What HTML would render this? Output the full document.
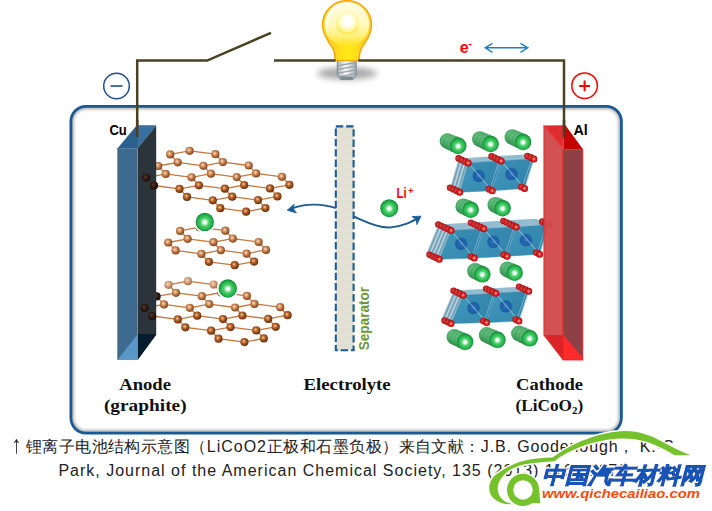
<!DOCTYPE html>
<html><head><meta charset="utf-8"><title>Li-ion battery</title>
<style>
html,body{margin:0;padding:0;background:#fff;}
body{width:712px;height:511px;position:relative;overflow:hidden;font-family:"Liberation Sans",sans-serif;}
.cap{position:absolute;left:0;white-space:nowrap;font-size:16px;color:#222;line-height:22px;letter-spacing:0.45px;}
.la{letter-spacing:0.9px}
.cap span{display:inline-block}
</style></head><body>
<svg width="712" height="511" viewBox="0 0 712 511" style="position:absolute;left:0;top:0"><defs>
<radialGradient id="gCu" cx="42%" cy="40%" r="62%">
  <stop offset="0" stop-color="#fbe6d6"/><stop offset="0.35" stop-color="#d6935f"/><stop offset="0.8" stop-color="#9a5428"/><stop offset="1" stop-color="#7a3e18"/>
</radialGradient>
<radialGradient id="gCuD" cx="42%" cy="40%" r="62%">
  <stop offset="0" stop-color="#f6d0b0"/><stop offset="0.35" stop-color="#bd6a2e"/><stop offset="0.8" stop-color="#7f3a10"/><stop offset="1" stop-color="#5e2808"/>
</radialGradient>
<radialGradient id="gCuL" cx="42%" cy="40%" r="62%">
  <stop offset="0" stop-color="#f6dcc8"/><stop offset="0.4" stop-color="#dba884"/><stop offset="0.85" stop-color="#b47850"/><stop offset="1" stop-color="#9a6240"/>
</radialGradient>
<radialGradient id="gCuK" cx="42%" cy="40%" r="62%">
  <stop offset="0" stop-color="#5a3a2a"/><stop offset="0.5" stop-color="#2e1a12"/><stop offset="1" stop-color="#180c08"/>
</radialGradient>
<radialGradient id="gLi" cx="50%" cy="52%" r="55%">
  <stop offset="0" stop-color="#ffffff"/><stop offset="0.15" stop-color="#f4fff6"/><stop offset="0.38" stop-color="#50d470"/><stop offset="0.72" stop-color="#22b04a"/><stop offset="0.92" stop-color="#148838"/><stop offset="1" stop-color="#0e702c"/>
</radialGradient>
<radialGradient id="gLiB" cx="42%" cy="36%" r="65%">
  <stop offset="0" stop-color="#78cc92"/><stop offset="0.55" stop-color="#4aaa66"/><stop offset="0.9" stop-color="#318c4c"/><stop offset="1" stop-color="#2a7e42"/>
</radialGradient>
<radialGradient id="gO" cx="50%" cy="50%" r="55%">
  <stop offset="0" stop-color="#ffe8e8"/><stop offset="0.3" stop-color="#f04040"/><stop offset="0.75" stop-color="#c81010"/><stop offset="1" stop-color="#900000"/>
</radialGradient>
<radialGradient id="gOB" cx="50%" cy="50%" r="55%">
  <stop offset="0" stop-color="#e05050"/><stop offset="0.7" stop-color="#c02020"/><stop offset="1" stop-color="#981010"/>
</radialGradient>
<radialGradient id="gCo" cx="50%" cy="50%" r="50%">
  <stop offset="0" stop-color="#3a80c4"/><stop offset="0.35" stop-color="#2268b0"/><stop offset="0.85" stop-color="#1d5fa4"/><stop offset="1" stop-color="#2472a8" stop-opacity="0.35"/>
</radialGradient>
<radialGradient id="gBulb" cx="346.7" cy="22" r="25" fx="348" fy="20" gradientUnits="userSpaceOnUse">
  <stop offset="0" stop-color="#ffffff"/><stop offset="0.22" stop-color="#fffbe0"/><stop offset="0.42" stop-color="#fff08a"/><stop offset="0.75" stop-color="#ffe04a"/><stop offset="1" stop-color="#ffc81e"/>
</radialGradient>
<linearGradient id="gNeck" x1="326" x2="368" y1="0" y2="0" gradientUnits="userSpaceOnUse">
  <stop offset="0" stop-color="#ffc419"/><stop offset="0.3" stop-color="#ffdc1c"/><stop offset="0.55" stop-color="#ffea14"/><stop offset="0.8" stop-color="#ffd81c"/><stop offset="1" stop-color="#ffbe19"/>
</linearGradient>
<linearGradient id="gBulbIn" x1="0" x2="0" y1="2" y2="46" gradientUnits="userSpaceOnUse">
  <stop offset="0" stop-color="#fffde6"/><stop offset="0.5" stop-color="#fff8be"/><stop offset="0.78" stop-color="#fff07a"/><stop offset="1" stop-color="#ffe628" stop-opacity="0.6"/>
</linearGradient>
<radialGradient id="gBulbRing" cx="50%" cy="42%" r="55%">
  <stop offset="0" stop-color="#fffef4"/><stop offset="0.6" stop-color="#fffbd0"/><stop offset="0.88" stop-color="#fff38c"/><stop offset="1" stop-color="#ffee6c"/>
</radialGradient>
<radialGradient id="gBulbCore" cx="50%" cy="50%" r="50%">
  <stop offset="0" stop-color="#ffffff"/><stop offset="0.6" stop-color="#ffffff"/><stop offset="1" stop-color="#fffde0" stop-opacity="0"/>
</radialGradient>
<linearGradient id="gBase" x1="0" x2="1" y1="0" y2="0">
  <stop offset="0" stop-color="#a8b0b4"/><stop offset="0.45" stop-color="#fbfbfb"/><stop offset="1" stop-color="#a0aaae"/>
</linearGradient>
<linearGradient id="gPoly" x1="0" x2="1" y1="0" y2="1">
  <stop offset="0" stop-color="#4799bd"/><stop offset="0.5" stop-color="#3a8fb4"/><stop offset="1" stop-color="#3388ae"/>
</linearGradient>
<filter id="blur05"><feGaussianBlur stdDeviation="0.5"/></filter>
<filter id="blur1" x="-20%" y="-50%" width="140%" height="200%"><feGaussianBlur stdDeviation="3"/></filter>
<filter id="blur2" x="-10%" y="-10%" width="120%" height="120%"><feGaussianBlur stdDeviation="1.7"/></filter>
<pattern id="pSep" width="2" height="2" patternUnits="userSpaceOnUse"><rect width="2" height="2" fill="#e9e6dc"/><rect width="1" height="1" fill="#d9d5c8"/><rect x="1" y="1" width="1" height="1" fill="#dfdbcf"/></pattern>
<clipPath id="boxclip"><rect x="70.9" y="106.3" width="550.5" height="326.8" rx="15" ry="15"/></clipPath>
</defs>
<g clip-path="url(#boxclip)"><rect x="70.9" y="106.3" width="550.5" height="326.8" rx="15" ry="15" fill="none" stroke="#8a8a8a" stroke-width="6" filter="url(#blur2)" opacity="0.7"/></g>
<rect x="70.9" y="106.3" width="550.5" height="326.8" rx="15" ry="15" fill="none" stroke="#1a5a94" stroke-width="2.8"/>
<ellipse cx="347.2" cy="73.4" rx="30" ry="6" fill="#9a9a9a" filter="url(#blur1)" opacity="0.85"/>
<path d="M337.3 60 L356.2 60 L356.2 75.2 L352.8 79.6 L340.6 79.6 L337.3 75.2 Z" fill="url(#gBase)" stroke="#76868e" stroke-width="1"/>
<path d="M338.2 65.7 L355.4 62.5" stroke="#98a2a8" stroke-width="1.3"/>
<path d="M338.2 69.4 L355.4 66.2" stroke="#98a2a8" stroke-width="1.3"/>
<path d="M338.2 73.1 L355.4 69.9" stroke="#98a2a8" stroke-width="1.3"/>
<path d="M338.2 76.8 L355.4 73.6" stroke="#98a2a8" stroke-width="1.3"/>
<path d="M340.6 76.4 L352.8 76.4 L352.8 79.6 L340.6 79.6 Z" fill="#7e8c94"/>
<path d="M347 0.6 C360.6 0.6 371.5 11.4 371.5 24.8 C371.5 32.5 368.2 38 365.2 42.6 C362.6 46.6 360.6 48.8 360 52 C359.6 54.5 359.4 57 359.2 60.4 L335.2 60.4 C335 57 334.8 54.5 334.3 52 C333.7 48.8 331.6 46.6 329 42.6 C326 38 322.5 32.5 322.5 24.8 C322.5 11.4 333.4 0.6 347 0.6 Z" fill="#ffd535" stroke="#f7a400" stroke-width="1.4"/>
<path d="M326 36 C330 42 335 47 336.3 52 C337 55 337 58 337.2 59.8 L357.3 59.8 C357.5 58 357.6 55 358.2 52 C359.5 47 364 42 368 36 C360 42 334 42 326 36 Z" fill="url(#gNeck)"/>
<circle cx="346.9" cy="24.2" r="22.3" fill="url(#gBulbIn)"/>
<path d="M327.5 30 C325 18 332 6.5 345 4.2" fill="none" stroke="#fffef2" stroke-width="1.6" stroke-linecap="round" opacity="0.95"/>
<circle cx="347.4" cy="22.4" r="11.2" fill="url(#gBulbRing)"/>
<path d="M337.2 26.5 C339.5 36 355.5 36 357.8 26.5" fill="none" stroke="#ffe84e" stroke-width="1.3" opacity="0.9" filter="url(#blur05)"/>
<circle cx="347.8" cy="20.6" r="7.4" fill="url(#gBulbCore)"/>
<path d="M137.2 137 L137.2 60.6 L207.1 60.6 L271 32.8" fill="none" stroke="#4a4122" stroke-width="2.5" stroke-linejoin="miter"/>
<path d="M274 60.6 L335.6 60.6" fill="none" stroke="#4a4122" stroke-width="2.5"/>
<path d="M358.2 60.6 L564 60.6 L564 137.5" fill="none" stroke="#4a4122" stroke-width="2.5"/>
<circle cx="116.5" cy="86" r="12.8" fill="none" stroke="#1f4f8f" stroke-width="1.5"/>
<path d="M110.5 86 L122.5 86" stroke="#1f4f8f" stroke-width="1.6"/>
<circle cx="584.6" cy="85.7" r="12.8" fill="none" stroke="#ff0000" stroke-width="1.5"/>
<path d="M579.2 85.9 L590 85.9 M584.6 80.5 L584.6 91.3" stroke="#ff0000" stroke-width="2"/>
<path d="M485.5 47.8 L527.5 47.8 M492.5 43.3 L485.2 47.8 L492.5 52.3 M520.5 43.3 L527.8 47.8 L520.5 52.3" fill="none" stroke="#1f7fcc" stroke-width="1.4" stroke-linejoin="miter"/>
<rect x="335.8" y="126.4" width="17.8" height="223.9" fill="url(#pSep)" stroke="#1b5c95" stroke-width="2.1" stroke-dasharray="7.4 2.9"/>
<path d="M170.2 154.4 L189.6 150.8" stroke="#c6783f" stroke-width="1.3"/>
<path d="M170.2 154.4 L177.7 162.3" stroke="#c6783f" stroke-width="1.3"/>
<path d="M215.4 154.2 L189.6 150.8" stroke="#c6783f" stroke-width="1.3"/>
<path d="M215.4 154.2 L222.8 162.1" stroke="#c6783f" stroke-width="1.3"/>
<path d="M158.2 166.0 L177.7 162.3" stroke="#c6783f" stroke-width="1.3"/>
<path d="M158.2 166.0 L165.7 173.9" stroke="#c6783f" stroke-width="1.3"/>
<path d="M203.4 165.8 L222.8 162.1" stroke="#c6783f" stroke-width="1.3"/>
<path d="M203.4 165.8 L177.7 162.3" stroke="#c6783f" stroke-width="1.3"/>
<path d="M203.4 165.8 L210.9 173.7" stroke="#c6783f" stroke-width="1.3"/>
<path d="M248.7 165.5 L222.8 162.1" stroke="#c6783f" stroke-width="1.3"/>
<path d="M248.7 165.5 L256.1 173.4" stroke="#c6783f" stroke-width="1.3"/>
<path d="M146.3 177.6 L165.7 173.9" stroke="#c6783f" stroke-width="1.3"/>
<path d="M146.3 177.6 L153.8 185.5" stroke="#c6783f" stroke-width="1.3"/>
<path d="M191.5 177.3 L210.9 173.7" stroke="#c6783f" stroke-width="1.3"/>
<path d="M191.5 177.3 L165.7 173.9" stroke="#c6783f" stroke-width="1.3"/>
<path d="M191.5 177.3 L198.9 185.3" stroke="#c6783f" stroke-width="1.3"/>
<path d="M236.7 177.1 L256.1 173.4" stroke="#c6783f" stroke-width="1.3"/>
<path d="M236.7 177.1 L210.9 173.7" stroke="#c6783f" stroke-width="1.3"/>
<path d="M236.7 177.1 L244.2 185.0" stroke="#c6783f" stroke-width="1.3"/>
<path d="M281.9 176.8 L256.1 173.4" stroke="#c6783f" stroke-width="1.3"/>
<path d="M281.9 176.8 L289.4 184.8" stroke="#c6783f" stroke-width="1.3"/>
<path d="M179.5 188.9 L198.9 185.3" stroke="#c6783f" stroke-width="1.3"/>
<path d="M179.5 188.9 L153.8 185.5" stroke="#c6783f" stroke-width="1.3"/>
<path d="M179.5 188.9 L187.0 196.9" stroke="#c6783f" stroke-width="1.3"/>
<path d="M224.8 188.7 L244.2 185.0" stroke="#c6783f" stroke-width="1.3"/>
<path d="M224.8 188.7 L198.9 185.3" stroke="#c6783f" stroke-width="1.3"/>
<path d="M224.8 188.7 L232.2 196.7" stroke="#c6783f" stroke-width="1.3"/>
<path d="M270.0 188.4 L289.4 184.8" stroke="#c6783f" stroke-width="1.3"/>
<path d="M270.0 188.4 L244.2 185.0" stroke="#c6783f" stroke-width="1.3"/>
<path d="M270.0 188.4 L277.4 196.4" stroke="#c6783f" stroke-width="1.3"/>
<path d="M212.8 200.3 L232.2 196.7" stroke="#c6783f" stroke-width="1.3"/>
<path d="M212.8 200.3 L187.0 196.9" stroke="#c6783f" stroke-width="1.3"/>
<path d="M212.8 200.3 L220.3 208.2" stroke="#c6783f" stroke-width="1.3"/>
<path d="M258.0 200.1 L277.4 196.4" stroke="#c6783f" stroke-width="1.3"/>
<path d="M258.0 200.1 L232.2 196.7" stroke="#c6783f" stroke-width="1.3"/>
<path d="M258.0 200.1 L265.4 208.0" stroke="#c6783f" stroke-width="1.3"/>
<path d="M246.1 211.7 L265.4 208.0" stroke="#c6783f" stroke-width="1.3"/>
<path d="M246.1 211.7 L220.3 208.2" stroke="#c6783f" stroke-width="1.3"/>
<circle cx="189.6" cy="150.8" r="4.1" fill="url(#gCu)"/>
<circle cx="215.4" cy="154.2" r="4.1" fill="url(#gCu)"/>
<circle cx="170.2" cy="154.4" r="4.1" fill="url(#gCu)"/>
<circle cx="222.8" cy="162.1" r="4.1" fill="url(#gCu)"/>
<circle cx="177.7" cy="162.3" r="4.1" fill="url(#gCu)"/>
<circle cx="248.7" cy="165.5" r="4.1" fill="url(#gCu)"/>
<circle cx="203.4" cy="165.8" r="4.1" fill="url(#gCu)"/>
<circle cx="158.2" cy="166.0" r="4.1" fill="url(#gCu)"/>
<circle cx="256.1" cy="173.4" r="4.1" fill="url(#gCu)"/>
<circle cx="210.9" cy="173.7" r="4.1" fill="url(#gCu)"/>
<circle cx="165.7" cy="173.9" r="4.1" fill="url(#gCu)"/>
<circle cx="281.9" cy="176.8" r="4.1" fill="url(#gCu)"/>
<circle cx="236.7" cy="177.1" r="4.1" fill="url(#gCu)"/>
<circle cx="191.5" cy="177.3" r="4.1" fill="url(#gCu)"/>
<circle cx="146.3" cy="177.6" r="4.1" fill="url(#gCuK)"/>
<circle cx="289.4" cy="184.8" r="4.1" fill="url(#gCuD)"/>
<circle cx="244.2" cy="185.0" r="4.1" fill="url(#gCuD)"/>
<circle cx="198.9" cy="185.3" r="4.1" fill="url(#gCuD)"/>
<circle cx="153.8" cy="185.5" r="4.1" fill="url(#gCuK)"/>
<circle cx="270.0" cy="188.4" r="4.1" fill="url(#gCuD)"/>
<circle cx="224.8" cy="188.7" r="4.1" fill="url(#gCuD)"/>
<circle cx="179.5" cy="188.9" r="4.1" fill="url(#gCuD)"/>
<circle cx="277.4" cy="196.4" r="4.1" fill="url(#gCuD)"/>
<circle cx="232.2" cy="196.7" r="4.1" fill="url(#gCuD)"/>
<circle cx="187.0" cy="196.9" r="4.1" fill="url(#gCuD)"/>
<circle cx="258.0" cy="200.1" r="4.1" fill="url(#gCuD)"/>
<circle cx="212.8" cy="200.3" r="4.1" fill="url(#gCuD)"/>
<circle cx="265.4" cy="208.0" r="4.1" fill="url(#gCuD)"/>
<circle cx="220.3" cy="208.2" r="4.1" fill="url(#gCuD)"/>
<circle cx="246.1" cy="211.7" r="4.1" fill="url(#gCuD)"/>
<path d="M180.1 230.9 L199.5 227.2" stroke="#c6783f" stroke-width="1.3"/>
<path d="M180.1 230.9 L187.6 238.8" stroke="#c6783f" stroke-width="1.3"/>
<path d="M225.3 230.7 L199.5 227.2" stroke="#c6783f" stroke-width="1.3"/>
<path d="M225.3 230.7 L232.8 238.6" stroke="#c6783f" stroke-width="1.3"/>
<path d="M168.2 242.5 L187.6 238.8" stroke="#c6783f" stroke-width="1.3"/>
<path d="M168.2 242.5 L175.6 250.4" stroke="#c6783f" stroke-width="1.3"/>
<path d="M213.4 242.2 L232.8 238.6" stroke="#c6783f" stroke-width="1.3"/>
<path d="M213.4 242.2 L187.6 238.8" stroke="#c6783f" stroke-width="1.3"/>
<path d="M213.4 242.2 L220.8 250.2" stroke="#c6783f" stroke-width="1.3"/>
<path d="M258.6 242.0 L232.8 238.6" stroke="#c6783f" stroke-width="1.3"/>
<path d="M258.6 242.0 L266.0 249.9" stroke="#c6783f" stroke-width="1.3"/>
<path d="M201.4 253.8 L220.8 250.2" stroke="#c6783f" stroke-width="1.3"/>
<path d="M201.4 253.8 L175.6 250.4" stroke="#c6783f" stroke-width="1.3"/>
<path d="M201.4 253.8 L208.9 261.8" stroke="#c6783f" stroke-width="1.3"/>
<path d="M246.6 253.6 L266.0 249.9" stroke="#c6783f" stroke-width="1.3"/>
<path d="M246.6 253.6 L220.8 250.2" stroke="#c6783f" stroke-width="1.3"/>
<path d="M246.6 253.6 L254.1 261.6" stroke="#c6783f" stroke-width="1.3"/>
<path d="M234.7 265.2 L254.1 261.6" stroke="#c6783f" stroke-width="1.3"/>
<path d="M234.7 265.2 L208.9 261.8" stroke="#c6783f" stroke-width="1.3"/>
<circle cx="199.5" cy="227.2" r="4.1" fill="url(#gCu)"/>
<circle cx="225.3" cy="230.7" r="4.1" fill="url(#gCu)"/>
<circle cx="180.1" cy="230.9" r="4.1" fill="url(#gCu)"/>
<circle cx="232.8" cy="238.6" r="4.1" fill="url(#gCu)"/>
<circle cx="187.6" cy="238.8" r="4.1" fill="url(#gCu)"/>
<circle cx="258.6" cy="242.0" r="4.1" fill="url(#gCu)"/>
<circle cx="213.4" cy="242.2" r="4.1" fill="url(#gCu)"/>
<circle cx="168.2" cy="242.5" r="4.1" fill="url(#gCu)"/>
<circle cx="266.0" cy="249.9" r="4.1" fill="url(#gCu)"/>
<circle cx="220.8" cy="250.2" r="4.1" fill="url(#gCu)"/>
<circle cx="175.6" cy="250.4" r="4.1" fill="url(#gCu)"/>
<circle cx="246.6" cy="253.6" r="4.1" fill="url(#gCu)"/>
<circle cx="201.4" cy="253.8" r="4.1" fill="url(#gCu)"/>
<circle cx="254.1" cy="261.6" r="4.1" fill="url(#gCuD)"/>
<circle cx="208.9" cy="261.8" r="4.1" fill="url(#gCuD)"/>
<circle cx="234.7" cy="265.2" r="4.1" fill="url(#gCuD)"/>
<path d="M168.5 284.8 L187.9 281.2" stroke="#c6783f" stroke-width="1.3"/>
<path d="M168.5 284.8 L176.0 292.8" stroke="#c6783f" stroke-width="1.3"/>
<path d="M213.7 284.6 L187.9 281.2" stroke="#c6783f" stroke-width="1.3"/>
<path d="M213.7 284.6 L221.2 292.5" stroke="#c6783f" stroke-width="1.3"/>
<path d="M156.6 296.4 L176.0 292.8" stroke="#c6783f" stroke-width="1.3"/>
<path d="M156.6 296.4 L164.0 304.4" stroke="#c6783f" stroke-width="1.3"/>
<path d="M201.8 296.2 L221.2 292.5" stroke="#c6783f" stroke-width="1.3"/>
<path d="M201.8 296.2 L176.0 292.8" stroke="#c6783f" stroke-width="1.3"/>
<path d="M201.8 296.2 L209.2 304.1" stroke="#c6783f" stroke-width="1.3"/>
<path d="M246.9 295.9 L221.2 292.5" stroke="#c6783f" stroke-width="1.3"/>
<path d="M246.9 295.9 L254.4 303.9" stroke="#c6783f" stroke-width="1.3"/>
<path d="M144.6 308.0 L164.0 304.4" stroke="#c6783f" stroke-width="1.3"/>
<path d="M144.6 308.0 L152.1 316.0" stroke="#c6783f" stroke-width="1.3"/>
<path d="M189.8 307.8 L209.2 304.1" stroke="#c6783f" stroke-width="1.3"/>
<path d="M189.8 307.8 L164.0 304.4" stroke="#c6783f" stroke-width="1.3"/>
<path d="M189.8 307.8 L197.2 315.7" stroke="#c6783f" stroke-width="1.3"/>
<path d="M235.0 307.5 L254.4 303.9" stroke="#c6783f" stroke-width="1.3"/>
<path d="M235.0 307.5 L209.2 304.1" stroke="#c6783f" stroke-width="1.3"/>
<path d="M235.0 307.5 L242.4 315.5" stroke="#c6783f" stroke-width="1.3"/>
<path d="M280.2 307.2 L254.4 303.9" stroke="#c6783f" stroke-width="1.3"/>
<path d="M280.2 307.2 L287.6 315.2" stroke="#c6783f" stroke-width="1.3"/>
<path d="M177.8 319.4 L197.2 315.7" stroke="#c6783f" stroke-width="1.3"/>
<path d="M177.8 319.4 L152.1 316.0" stroke="#c6783f" stroke-width="1.3"/>
<path d="M177.8 319.4 L185.3 327.3" stroke="#c6783f" stroke-width="1.3"/>
<path d="M223.0 319.1 L242.4 315.5" stroke="#c6783f" stroke-width="1.3"/>
<path d="M223.0 319.1 L197.2 315.7" stroke="#c6783f" stroke-width="1.3"/>
<path d="M223.0 319.1 L230.5 327.1" stroke="#c6783f" stroke-width="1.3"/>
<path d="M268.2 318.9 L287.6 315.2" stroke="#c6783f" stroke-width="1.3"/>
<path d="M268.2 318.9 L242.4 315.5" stroke="#c6783f" stroke-width="1.3"/>
<path d="M268.2 318.9 L275.7 326.8" stroke="#c6783f" stroke-width="1.3"/>
<path d="M211.1 330.7 L230.5 327.1" stroke="#c6783f" stroke-width="1.3"/>
<path d="M211.1 330.7 L185.3 327.3" stroke="#c6783f" stroke-width="1.3"/>
<path d="M211.1 330.7 L218.5 338.7" stroke="#c6783f" stroke-width="1.3"/>
<path d="M256.3 330.4 L275.7 326.8" stroke="#c6783f" stroke-width="1.3"/>
<path d="M256.3 330.4 L230.5 327.1" stroke="#c6783f" stroke-width="1.3"/>
<path d="M256.3 330.4 L263.8 338.4" stroke="#c6783f" stroke-width="1.3"/>
<path d="M244.4 342.1 L263.8 338.4" stroke="#c6783f" stroke-width="1.3"/>
<path d="M244.4 342.1 L218.5 338.7" stroke="#c6783f" stroke-width="1.3"/>
<circle cx="187.9" cy="281.2" r="4.1" fill="url(#gCuL)"/>
<circle cx="213.7" cy="284.6" r="4.1" fill="url(#gCuL)"/>
<circle cx="168.5" cy="284.8" r="4.1" fill="url(#gCuL)"/>
<circle cx="221.2" cy="292.5" r="4.1" fill="url(#gCu)"/>
<circle cx="176.0" cy="292.8" r="4.1" fill="url(#gCu)"/>
<circle cx="246.9" cy="295.9" r="4.1" fill="url(#gCu)"/>
<circle cx="201.8" cy="296.2" r="4.1" fill="url(#gCu)"/>
<circle cx="156.6" cy="296.4" r="4.1" fill="url(#gCuK)"/>
<circle cx="254.4" cy="303.9" r="4.1" fill="url(#gCu)"/>
<circle cx="209.2" cy="304.1" r="4.1" fill="url(#gCu)"/>
<circle cx="164.0" cy="304.4" r="4.1" fill="url(#gCu)"/>
<circle cx="280.2" cy="307.2" r="4.1" fill="url(#gCu)"/>
<circle cx="235.0" cy="307.5" r="4.1" fill="url(#gCu)"/>
<circle cx="189.8" cy="307.8" r="4.1" fill="url(#gCu)"/>
<circle cx="144.6" cy="308.0" r="4.1" fill="url(#gCuK)"/>
<circle cx="287.6" cy="315.2" r="4.1" fill="url(#gCuD)"/>
<circle cx="242.4" cy="315.5" r="4.1" fill="url(#gCuD)"/>
<circle cx="197.2" cy="315.7" r="4.1" fill="url(#gCuD)"/>
<circle cx="152.1" cy="316.0" r="4.1" fill="url(#gCuK)"/>
<circle cx="268.2" cy="318.9" r="4.1" fill="url(#gCuD)"/>
<circle cx="223.0" cy="319.1" r="4.1" fill="url(#gCuD)"/>
<circle cx="177.8" cy="319.4" r="4.1" fill="url(#gCuD)"/>
<circle cx="275.7" cy="326.8" r="4.1" fill="url(#gCuD)"/>
<circle cx="230.5" cy="327.1" r="4.1" fill="url(#gCuD)"/>
<circle cx="185.3" cy="327.3" r="4.1" fill="url(#gCuD)"/>
<circle cx="256.3" cy="330.4" r="4.1" fill="url(#gCuD)"/>
<circle cx="211.1" cy="330.7" r="4.1" fill="url(#gCuD)"/>
<circle cx="263.8" cy="338.4" r="4.1" fill="url(#gCuD)"/>
<circle cx="218.5" cy="338.7" r="4.1" fill="url(#gCuD)"/>
<circle cx="244.4" cy="342.1" r="4.1" fill="url(#gCuD)"/>
<path d="M137.5 148.5 L156.2 125.4 L156.2 335 L137.5 360 Z" fill="#2b333b"/>
<circle cx="146.3" cy="177.6" r="4.1" fill="url(#gCuK)"/><circle cx="153.8" cy="185.5" r="4.1" fill="url(#gCuK)"/>
<circle cx="144.6" cy="308.0" r="4.1" fill="url(#gCuK)"/><circle cx="152.1" cy="316.0" r="4.1" fill="url(#gCuK)"/>
<path d="M137.5 334 L156.2 334.3 L137.8 359.8 Z" fill="#051c2e"/>
<rect x="117.4" y="148.5" width="20.1" height="211.2" fill="#3e6a8f" stroke="#7f8f9b" stroke-width="0.6"/>
<path d="M117.8 359.4 L137.4 334.4 L137.4 359.4 Z" fill="#5a97c8"/>
<path d="M117.4 148.5 L136.6 125.4 L156.2 125.4 L137.5 148.5 Z" fill="#2a5f8e"/>
<path d="M136.6 125.4 L156.2 125.4 L137.5 148.5 L137.5 137 Z" fill="#3b6f9d"/>
<path d="M137.2 120 L137.2 137" stroke="#4a4122" stroke-width="2.5"/>
<circle cx="204.8" cy="221.9" r="10.8" fill="#fff"/><circle cx="227.8" cy="288.5" r="10.8" fill="#fff"/>
<circle cx="204.8" cy="221.9" r="9.2" fill="url(#gLi)"/>
<circle cx="227.8" cy="288.5" r="9.2" fill="url(#gLi)"/>
<circle cx="389.2" cy="208.2" r="9" fill="url(#gLi)"/>
<path d="M335.8 208.2 C322 203.2 305 203.6 291.5 208.6" fill="none" stroke="#1b5c95" stroke-width="1.9"/>
<path d="M287.2 210.2 L294.2 204.2 L293.2 208.6 L296.4 213 Z" fill="#1b5c95" stroke="#1b5c95" stroke-width="0.8" stroke-linejoin="miter"/>
<path d="M353.6 216.5 C368 222.5 379 228.2 391 227.4 C402 226.6 409.5 222.6 417.5 218.4" fill="none" stroke="#1b5c95" stroke-width="1.9"/>
<path d="M421 216.2 L412 216.6 L416.2 219.4 L416.8 224.6 Z" fill="#1b5c95" stroke="#1b5c95" stroke-width="0.8" stroke-linejoin="miter"/>
<circle cx="447.4" cy="141.0" r="7.80" fill="url(#gLiB)"/><circle cx="451.0" cy="142.6" r="7.97" fill="url(#gLiB)"/><circle cx="454.6" cy="144.2" r="8.13" fill="url(#gLiB)"/><circle cx="458.2" cy="145.9" r="8.3" fill="url(#gLi)"/>
<circle cx="479.8" cy="139.1" r="7.80" fill="url(#gLiB)"/><circle cx="483.4" cy="140.7" r="7.97" fill="url(#gLiB)"/><circle cx="487.0" cy="142.3" r="8.13" fill="url(#gLiB)"/><circle cx="490.6" cy="144.0" r="8.3" fill="url(#gLi)"/>
<circle cx="512.3" cy="137.1" r="7.80" fill="url(#gLiB)"/><circle cx="515.9" cy="138.7" r="7.97" fill="url(#gLiB)"/><circle cx="519.5" cy="140.3" r="8.13" fill="url(#gLiB)"/><circle cx="523.1" cy="142.0" r="8.3" fill="url(#gLi)"/>
<path d="M458.6 158.4 L468.2 162.9 L533.9 159.0 L524.3 154.5 Z" fill="#7fb0c8" opacity="0.85"/><path d="M458.6 158.4 L468.2 162.9 L459.7 192.2 L450.1 187.7 Z" fill="#86aec2" opacity="0.95"/><path d="M468.2 162.9 L459.7 192.2" stroke="#e4eff4" stroke-width="0.8" opacity="0.9"/><path d="M466.6 162.2 L458.1 191.4" stroke="#5f8fa8" stroke-width="0.9" opacity="0.7"/><path d="M465.0 161.4 L456.5 190.7" stroke="#e4eff4" stroke-width="0.8" opacity="0.9"/><path d="M463.4 160.7 L454.9 189.9" stroke="#5f8fa8" stroke-width="0.9" opacity="0.7"/><path d="M461.8 159.9 L453.3 189.2" stroke="#e4eff4" stroke-width="0.8" opacity="0.9"/><path d="M460.2 159.2 L451.7 188.4" stroke="#5f8fa8" stroke-width="0.9" opacity="0.7"/><path d="M458.6 158.4 L450.1 187.7" stroke="#e4eff4" stroke-width="0.8" opacity="0.9"/><path d="M468.2 162.9 L501.2 160.9 L492.2 190.7 L459.7 192.2 Z" fill="url(#gPoly)" stroke="#3a8db2" stroke-width="0.5"/><path d="M468.2 162.9 L501.2 160.9 L492.2 190.7 Z" fill="#2a7aa2" opacity="0.35"/><circle cx="478.7" cy="176.0" r="6.6" fill="url(#gCo)"/><path d="M468.2 162.9 L492.2 190.7" stroke="#dcecf4" stroke-width="0.7" opacity="0.85"/><path d="M501.2 160.9 L492.2 190.7" stroke="#d4e6f0" stroke-width="0.8" opacity="0.85"/><path d="M498.6 162.4 L489.8 189.7" stroke="#d4e6f0" stroke-width="0.6" opacity="0.7"/><path d="M501.2 160.9 L533.9 159.0 L524.6 188.4 L492.2 190.7 Z" fill="url(#gPoly)" stroke="#3a8db2" stroke-width="0.5"/><path d="M501.2 160.9 L533.9 159.0 L524.6 188.4 Z" fill="#2a7aa2" opacity="0.35"/><circle cx="511.5" cy="174.2" r="6.6" fill="url(#gCo)"/><path d="M501.2 160.9 L524.6 188.4" stroke="#dcecf4" stroke-width="0.7" opacity="0.85"/><path d="M533.9 159.0 L524.6 188.4" stroke="#d4e6f0" stroke-width="0.8" opacity="0.85"/><path d="M531.3 160.5 L522.2 187.4" stroke="#d4e6f0" stroke-width="0.6" opacity="0.7"/><circle cx="458.6" cy="158.4" r="3.29" fill="url(#gOB)"/><circle cx="461.8" cy="159.9" r="3.36" fill="url(#gOB)"/><circle cx="465.0" cy="161.4" r="3.43" fill="url(#gOB)"/><circle cx="468.2" cy="162.9" r="3.5" fill="url(#gO)"/><circle cx="491.6" cy="156.4" r="3.29" fill="url(#gOB)"/><circle cx="494.8" cy="157.9" r="3.36" fill="url(#gOB)"/><circle cx="498.0" cy="159.4" r="3.43" fill="url(#gOB)"/><circle cx="501.2" cy="160.9" r="3.5" fill="url(#gO)"/><circle cx="527.5" cy="156.0" r="3.36" fill="url(#gOB)"/><circle cx="530.7" cy="157.5" r="3.43" fill="url(#gOB)"/><circle cx="533.9" cy="159.0" r="3.5" fill="url(#gO)"/><circle cx="450.1" cy="187.7" r="3.29" fill="url(#gOB)"/><circle cx="453.3" cy="189.2" r="3.36" fill="url(#gOB)"/><circle cx="456.5" cy="190.7" r="3.43" fill="url(#gOB)"/><circle cx="459.7" cy="192.2" r="3.5" fill="url(#gO)"/><circle cx="489.0" cy="189.2" r="3.43" fill="url(#gOB)"/><circle cx="492.2" cy="190.7" r="3.5" fill="url(#gO)"/><circle cx="521.4" cy="186.9" r="3.43" fill="url(#gOB)"/><circle cx="524.6" cy="188.4" r="3.5" fill="url(#gO)"/>
<circle cx="463.4" cy="206.4" r="7.97" fill="url(#gLiB)"/><circle cx="467.0" cy="208.0" r="8.13" fill="url(#gLiB)"/><circle cx="470.6" cy="209.7" r="8.3" fill="url(#gLi)"/>
<circle cx="495.4" cy="204.9" r="7.97" fill="url(#gLiB)"/><circle cx="499.0" cy="206.5" r="8.13" fill="url(#gLiB)"/><circle cx="502.6" cy="208.2" r="8.3" fill="url(#gLi)"/>
<path d="M438.3 224.5 L451.1 230.5 L548.7 224.7 L535.9 218.7 Z" fill="#7fb0c8" opacity="0.85"/><path d="M438.3 224.5 L451.1 230.5 L439.2 259.3 L426.4 253.3 Z" fill="#86aec2" opacity="0.95"/><path d="M451.1 230.5 L439.2 259.3" stroke="#e4eff4" stroke-width="0.8" opacity="0.9"/><path d="M449.5 229.8 L437.6 258.6" stroke="#5f8fa8" stroke-width="0.9" opacity="0.7"/><path d="M447.9 229.0 L436.0 257.8" stroke="#e4eff4" stroke-width="0.8" opacity="0.9"/><path d="M446.3 228.2 L434.4 257.1" stroke="#5f8fa8" stroke-width="0.9" opacity="0.7"/><path d="M444.7 227.5 L432.8 256.3" stroke="#e4eff4" stroke-width="0.8" opacity="0.9"/><path d="M443.1 226.8 L431.2 255.6" stroke="#5f8fa8" stroke-width="0.9" opacity="0.7"/><path d="M441.5 226.0 L429.6 254.8" stroke="#e4eff4" stroke-width="0.8" opacity="0.9"/><path d="M439.9 225.2 L428.0 254.1" stroke="#5f8fa8" stroke-width="0.9" opacity="0.7"/><path d="M438.3 224.5 L426.4 253.3" stroke="#e4eff4" stroke-width="0.8" opacity="0.9"/><path d="M451.1 230.5 L483.8 228.7 L474.3 258.1 L439.2 259.3 Z" fill="url(#gPoly)" stroke="#3a8db2" stroke-width="0.5"/><path d="M451.1 230.5 L483.8 228.7 L474.3 258.1 Z" fill="#2a7aa2" opacity="0.35"/><circle cx="461.1" cy="243.8" r="6.6" fill="url(#gCo)"/><path d="M451.1 230.5 L474.3 258.1" stroke="#dcecf4" stroke-width="0.7" opacity="0.85"/><path d="M483.8 228.7 L474.3 258.1" stroke="#d4e6f0" stroke-width="0.8" opacity="0.85"/><path d="M481.2 230.2 L471.9 257.1" stroke="#d4e6f0" stroke-width="0.6" opacity="0.7"/><path d="M483.8 228.7 L516.2 227.0 L507.1 256.2 L474.3 258.1 Z" fill="url(#gPoly)" stroke="#3a8db2" stroke-width="0.5"/><path d="M483.8 228.7 L516.2 227.0 L507.1 256.2 Z" fill="#2a7aa2" opacity="0.35"/><circle cx="493.4" cy="242.0" r="6.6" fill="url(#gCo)"/><path d="M483.8 228.7 L507.1 256.2" stroke="#dcecf4" stroke-width="0.7" opacity="0.85"/><path d="M516.2 227.0 L507.1 256.2" stroke="#d4e6f0" stroke-width="0.8" opacity="0.85"/><path d="M513.6 228.5 L504.7 255.2" stroke="#d4e6f0" stroke-width="0.6" opacity="0.7"/><path d="M516.2 227.0 L548.7 224.7 L539.6 254.2 L507.1 256.2 Z" fill="url(#gPoly)" stroke="#3a8db2" stroke-width="0.5"/><path d="M516.2 227.0 L548.7 224.7 L539.6 254.2 Z" fill="#2a7aa2" opacity="0.35"/><circle cx="525.9" cy="240.2" r="6.6" fill="url(#gCo)"/><path d="M516.2 227.0 L539.6 254.2" stroke="#dcecf4" stroke-width="0.7" opacity="0.85"/><path d="M548.7 224.7 L539.6 254.2" stroke="#d4e6f0" stroke-width="0.8" opacity="0.85"/><path d="M546.1 226.2 L537.2 253.2" stroke="#d4e6f0" stroke-width="0.6" opacity="0.7"/><circle cx="438.3" cy="224.5" r="3.22" fill="url(#gOB)"/><circle cx="441.5" cy="226.0" r="3.29" fill="url(#gOB)"/><circle cx="444.7" cy="227.5" r="3.36" fill="url(#gOB)"/><circle cx="447.9" cy="229.0" r="3.43" fill="url(#gOB)"/><circle cx="451.1" cy="230.5" r="3.5" fill="url(#gO)"/><circle cx="471.0" cy="222.7" r="3.22" fill="url(#gOB)"/><circle cx="474.2" cy="224.2" r="3.29" fill="url(#gOB)"/><circle cx="477.4" cy="225.7" r="3.36" fill="url(#gOB)"/><circle cx="480.6" cy="227.2" r="3.43" fill="url(#gOB)"/><circle cx="483.8" cy="228.7" r="3.5" fill="url(#gO)"/><circle cx="503.4" cy="221.0" r="3.22" fill="url(#gOB)"/><circle cx="506.6" cy="222.5" r="3.29" fill="url(#gOB)"/><circle cx="509.8" cy="224.0" r="3.36" fill="url(#gOB)"/><circle cx="513.0" cy="225.5" r="3.43" fill="url(#gOB)"/><circle cx="516.2" cy="227.0" r="3.5" fill="url(#gO)"/><circle cx="542.3" cy="221.7" r="3.36" fill="url(#gOB)"/><circle cx="545.5" cy="223.2" r="3.43" fill="url(#gOB)"/><circle cx="548.7" cy="224.7" r="3.5" fill="url(#gO)"/><circle cx="429.6" cy="254.8" r="3.29" fill="url(#gOB)"/><circle cx="432.8" cy="256.3" r="3.36" fill="url(#gOB)"/><circle cx="436.0" cy="257.8" r="3.43" fill="url(#gOB)"/><circle cx="439.2" cy="259.3" r="3.5" fill="url(#gO)"/><circle cx="471.1" cy="256.6" r="3.43" fill="url(#gOB)"/><circle cx="474.3" cy="258.1" r="3.5" fill="url(#gO)"/><circle cx="503.9" cy="254.7" r="3.43" fill="url(#gOB)"/><circle cx="507.1" cy="256.2" r="3.5" fill="url(#gO)"/><circle cx="536.4" cy="252.7" r="3.43" fill="url(#gOB)"/><circle cx="539.6" cy="254.2" r="3.5" fill="url(#gO)"/>
<circle cx="475.1" cy="271.0" r="7.97" fill="url(#gLiB)"/><circle cx="478.7" cy="272.7" r="8.13" fill="url(#gLiB)"/><circle cx="482.3" cy="274.3" r="8.3" fill="url(#gLi)"/>
<circle cx="507.4" cy="269.4" r="7.97" fill="url(#gLiB)"/><circle cx="511.0" cy="271.1" r="8.13" fill="url(#gLiB)"/><circle cx="514.6" cy="272.7" r="8.3" fill="url(#gLi)"/>
<path d="M453.6 290.7 L463.2 295.2 L528.7 291.3 L519.1 286.8 Z" fill="#7fb0c8" opacity="0.85"/><path d="M453.6 290.7 L463.2 295.2 L451.0 323.6 L441.4 319.1 Z" fill="#86aec2" opacity="0.95"/><path d="M463.2 295.2 L451.0 323.6" stroke="#e4eff4" stroke-width="0.8" opacity="0.9"/><path d="M461.6 294.4 L449.4 322.9" stroke="#5f8fa8" stroke-width="0.9" opacity="0.7"/><path d="M460.0 293.7 L447.8 322.1" stroke="#e4eff4" stroke-width="0.8" opacity="0.9"/><path d="M458.4 292.9 L446.2 321.4" stroke="#5f8fa8" stroke-width="0.9" opacity="0.7"/><path d="M456.8 292.2 L444.6 320.6" stroke="#e4eff4" stroke-width="0.8" opacity="0.9"/><path d="M455.2 291.4 L443.0 319.9" stroke="#5f8fa8" stroke-width="0.9" opacity="0.7"/><path d="M453.6 290.7 L441.4 319.1" stroke="#e4eff4" stroke-width="0.8" opacity="0.9"/><path d="M463.2 295.2 L495.8 293.3 L486.6 322.6 L451.0 323.6 Z" fill="url(#gPoly)" stroke="#3a8db2" stroke-width="0.5"/><path d="M463.2 295.2 L495.8 293.3 L486.6 322.6 Z" fill="#2a7aa2" opacity="0.35"/><circle cx="473.5" cy="307.9" r="6.6" fill="url(#gCo)"/><path d="M463.2 295.2 L486.6 322.6" stroke="#dcecf4" stroke-width="0.7" opacity="0.85"/><path d="M495.8 293.3 L486.6 322.6" stroke="#d4e6f0" stroke-width="0.8" opacity="0.85"/><path d="M493.2 294.8 L484.2 321.6" stroke="#d4e6f0" stroke-width="0.6" opacity="0.7"/><path d="M495.8 293.3 L528.7 291.3 L518.9 321.1 L486.6 322.6 Z" fill="url(#gPoly)" stroke="#3a8db2" stroke-width="0.5"/><path d="M495.8 293.3 L528.7 291.3 L518.9 321.1 Z" fill="#2a7aa2" opacity="0.35"/><circle cx="505.8" cy="306.4" r="6.6" fill="url(#gCo)"/><path d="M495.8 293.3 L518.9 321.1" stroke="#dcecf4" stroke-width="0.7" opacity="0.85"/><path d="M528.7 291.3 L518.9 321.1" stroke="#d4e6f0" stroke-width="0.8" opacity="0.85"/><path d="M526.1 292.8 L516.5 320.1" stroke="#d4e6f0" stroke-width="0.6" opacity="0.7"/><circle cx="453.6" cy="290.7" r="3.29" fill="url(#gOB)"/><circle cx="456.8" cy="292.2" r="3.36" fill="url(#gOB)"/><circle cx="460.0" cy="293.7" r="3.43" fill="url(#gOB)"/><circle cx="463.2" cy="295.2" r="3.5" fill="url(#gO)"/><circle cx="486.2" cy="288.8" r="3.29" fill="url(#gOB)"/><circle cx="489.4" cy="290.3" r="3.36" fill="url(#gOB)"/><circle cx="492.6" cy="291.8" r="3.43" fill="url(#gOB)"/><circle cx="495.8" cy="293.3" r="3.5" fill="url(#gO)"/><circle cx="519.1" cy="286.8" r="3.29" fill="url(#gOB)"/><circle cx="522.3" cy="288.3" r="3.36" fill="url(#gOB)"/><circle cx="525.5" cy="289.8" r="3.43" fill="url(#gOB)"/><circle cx="528.7" cy="291.3" r="3.5" fill="url(#gO)"/><circle cx="444.6" cy="320.6" r="3.36" fill="url(#gOB)"/><circle cx="447.8" cy="322.1" r="3.43" fill="url(#gOB)"/><circle cx="451.0" cy="323.6" r="3.5" fill="url(#gO)"/><circle cx="483.4" cy="321.1" r="3.43" fill="url(#gOB)"/><circle cx="486.6" cy="322.6" r="3.5" fill="url(#gO)"/><circle cx="515.7" cy="319.6" r="3.43" fill="url(#gOB)"/><circle cx="518.9" cy="321.1" r="3.5" fill="url(#gO)"/>
<circle cx="454.3" cy="336.9" r="7.80" fill="url(#gLiB)"/><circle cx="457.9" cy="338.5" r="7.97" fill="url(#gLiB)"/><circle cx="461.5" cy="340.2" r="8.13" fill="url(#gLiB)"/><circle cx="465.1" cy="341.8" r="8.3" fill="url(#gLi)"/>
<circle cx="486.6" cy="334.9" r="7.80" fill="url(#gLiB)"/><circle cx="490.2" cy="336.5" r="7.97" fill="url(#gLiB)"/><circle cx="493.8" cy="338.2" r="8.13" fill="url(#gLiB)"/><circle cx="497.4" cy="339.8" r="8.3" fill="url(#gLi)"/>
<circle cx="518.9" cy="333.4" r="7.80" fill="url(#gLiB)"/><circle cx="522.5" cy="335.0" r="7.97" fill="url(#gLiB)"/><circle cx="526.1" cy="336.7" r="8.13" fill="url(#gLiB)"/><circle cx="529.7" cy="338.3" r="8.3" fill="url(#gLi)"/>
<path d="M543.9 125.4 L563.2 148.9 L563.2 360 L543.9 335.2 Z" fill="#d14a4c" fill-opacity="0.96" stroke="#f01818" stroke-width="0.8"/>
<path d="M544.2 335 L563.2 335 L563.2 359.6 Z" fill="#d92528"/>
<rect x="563.2" y="149.5" width="19.6" height="210.5" fill="#8e4045" stroke="#f01818" stroke-width="0.8"/>
<path d="M563.4 335 L582.6 358 L582.6 359.8 L563.4 359.8 Z" fill="#ff2a2c"/>
<path d="M543.9 125.4 L563.5 125.2 L563.5 149 Z" fill="#df2c2e"/>
<path d="M563.5 125.2 L565.2 125.1 L582.8 149 L563.5 149 Z" fill="#c40000"/>
<path d="M564 120 L564 137.5" stroke="#4a4122" stroke-width="2.5"/>
<text x="109.4" y="134.8" font-family="Liberation Sans, sans-serif" font-weight="bold" font-size="14.6" fill="#000" textLength="17.4" lengthAdjust="spacingAndGlyphs">Cu</text>
<text x="573.5" y="134.8" font-family="Liberation Sans, sans-serif" font-weight="bold" font-size="14.3" fill="#000">Al</text>
<text font-family="Liberation Sans, sans-serif" font-weight="bold" font-size="17" fill="#ff0000"><tspan x="459.7" y="52.8" textLength="8.9" lengthAdjust="spacingAndGlyphs">e</tspan><tspan x="468.3" y="47.4" font-size="11">-</tspan></text>
<text font-family="Liberation Sans, sans-serif" font-weight="bold" font-size="15" fill="#ff0000"><tspan x="396.6" y="198" textLength="10" lengthAdjust="spacingAndGlyphs">Li</tspan><tspan x="408.3" y="193.6" font-size="8.6">+</tspan></text>
<text transform="translate(369 350.3) rotate(-90)" font-family="Liberation Sans, sans-serif" font-weight="bold" font-size="13.8" fill="#6b9a2e" textLength="63.4" lengthAdjust="spacingAndGlyphs">Separator</text>
<text x="145.1" y="389.8" text-anchor="middle" font-family="Liberation Serif, serif" font-weight="bold" font-size="16.5" fill="#111" textLength="51.8" lengthAdjust="spacingAndGlyphs">Anode</text>
<text x="145.3" y="410.6" text-anchor="middle" font-family="Liberation Serif, serif" font-weight="bold" font-size="16.5" fill="#111" textLength="82.7" lengthAdjust="spacingAndGlyphs">(graphite)</text>
<text x="347.1" y="389.5" text-anchor="middle" font-family="Liberation Serif, serif" font-weight="bold" font-size="16.5" fill="#111" textLength="87.2" lengthAdjust="spacingAndGlyphs">Electrolyte</text>
<text x="549.5" y="389.5" text-anchor="middle" font-family="Liberation Serif, serif" font-weight="bold" font-size="16.5" fill="#111" textLength="66.9" lengthAdjust="spacingAndGlyphs">Cathode</text>
<text x="549.4" y="410.8" text-anchor="middle" font-family="Liberation Serif, serif" font-weight="bold" font-size="16.5" fill="#111" textLength="67.6" lengthAdjust="spacingAndGlyphs">(LiCoO<tspan font-size="10.5" dy="3">2</tspan><tspan dy="-3">)</tspan></text>
</svg>
<div class="cap" id="c1" style="top:436px;left:12.4px;"><span style="transform:scale(1.25,1.55);transform-origin:50% 62%;width:7px">↑</span><span style="width:6.4px"></span>锂离子电池结构示意图（<span class="la" style="letter-spacing:1.0px">LiCoO2</span>正极和石墨负极）来自文献：<span class="la" style="letter-spacing:0.87px">J.B. Goodenough</span>， <span class="la">K.-S.</span></div>
<div class="cap la" id="c2" style="top:459.8px;left:58.4px;letter-spacing:1.0px">Park, Journal of the American Chemical Society, 135 (2013) 1167-1176.</div>
<svg width="712" height="511" viewBox="0 0 712 511" style="position:absolute;left:0;top:0">
<path d="M505 504 C496 501.5 489.5 496.5 489.3 489 C489 482.5 492 477.5 497 473.8 C505 468 514 463.5 522 461.2 C532 458.6 543 458 552.5 457.6 C560 452 568 447 576 443.5 C590 437 608 431.5 624 431 C640 431 652 436 661 441 C672 447 682 452 690.6 455.3 L674.6 455.3 C668 451 664 449 659.4 446.9 C648 441.5 636 438.5 624 438.5 C612 438.5 602 440.5 592 443 C580 446.5 570 451 560 457 L554.5 461.3 C544 462 534 462.5 523.8 464.6 C514 467 507 471 503.6 475.6 C499.5 480 497.5 484 497.7 489 C498 494 500 497 502 499 C505 502 509 503.6 513 504.2 Z" fill="#fff" stroke="#fff" stroke-width="3" stroke-linejoin="round"/>
<path d="M505 504 C496 501.5 489.5 496.5 489.3 489 C489 482.5 492 477.5 497 473.8 C505 468 514 463.5 522 461.2 C532 458.6 543 458 552.5 457.6 C560 452 568 447 576 443.5 C590 437 608 431.5 624 431 C640 431 652 436 661 441 C672 447 682 452 690.6 455.3 L674.6 455.3 C668 451 664 449 659.4 446.9 C648 441.5 636 438.5 624 438.5 C612 438.5 602 440.5 592 443 C580 446.5 570 451 560 457 L554.5 461.3 C544 462 534 462.5 523.8 464.6 C514 467 507 471 503.6 475.6 C499.5 480 497.5 484 497.7 489 C498 494 500 497 502 499 C505 502 509 503.6 513 504.2 Z" fill="#76c22c"/>
<g fill="none">
<circle cx="523" cy="489.9" r="12.9" stroke="#fff" stroke-width="9"/>
<path d="M534 489 L539.1 489 L540.3 503.3 L533 503.3 Z" fill="#fff" stroke="#fff" stroke-width="2.6" stroke-linejoin="round"/>
<circle cx="523" cy="489.9" r="12.9" stroke="#76c22c" stroke-width="6.3"/>
<path d="M533.5 489 L539.1 489 L540.3 503.3 L531 503.3 Z" fill="#76c22c" stroke="none"/>
</g>
<filter id="wout" x="-5%" y="-20%" width="110%" height="140%"><feMorphology in="SourceAlpha" operator="dilate" radius="1.3" result="d"/><feFlood flood-color="#fff"/><feComposite in2="d" operator="in" result="o"/><feMerge><feMergeNode in="o"/><feMergeNode in="SourceGraphic"/></feMerge></filter>
<text x="542" y="483.2" filter="url(#wout)" font-family="Liberation Sans, sans-serif" font-weight="900" font-style="italic" font-size="22" fill="#1254b6" stroke="#1254b6" stroke-width="1.1" textLength="161.5" lengthAdjust="spacingAndGlyphs">中国汽车材料网</text>
<text x="542" y="497.6" font-family="Liberation Sans, sans-serif" font-weight="bold" font-style="italic" font-size="13" fill="#fa4a0c" stroke="#fff" stroke-width="2" paint-order="stroke" textLength="158" lengthAdjust="spacingAndGlyphs">www.qichecailiao.com</text>
</svg>
</body></html>
